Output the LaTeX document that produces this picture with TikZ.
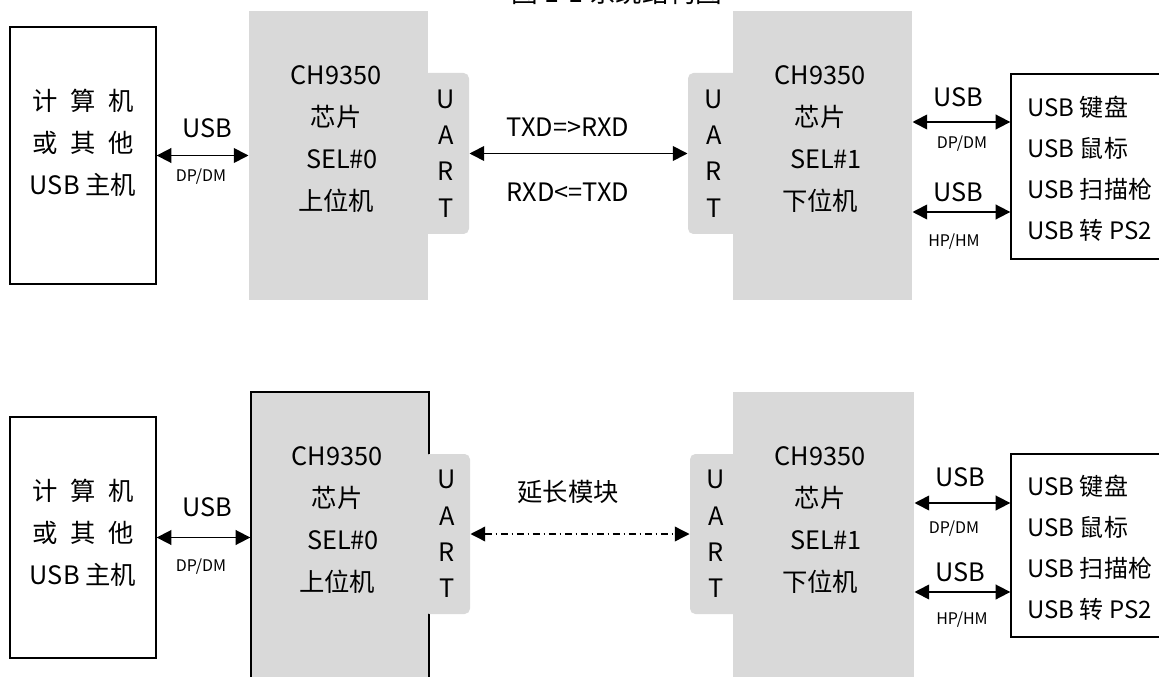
\documentclass[tikz,border=0pt]{standalone}
\usepackage{fontspec}
\setmainfont{Noto Sans CJK SC}
\usetikzlibrary{arrows.meta}
\definecolor{chipgray}{RGB}{217,217,217}
\tikzset{every picture/.style={line width=0.75pt}}
\tikzset{
	hostbox/.style={draw, line width=1pt, inner sep=0pt},
	chipbox/.style={fill=chipgray, inner sep=0pt},
	uarttab/.style={fill=chipgray, rounded corners=4pt, inner sep=0pt, align=center, font=\fontsize{19}{27.2}\selectfont},
	bigtext/.style={align=center, font=\fontsize{19}{31.5}\selectfont},
	listtext/.style={align=left, anchor=west, inner xsep=0pt, font=\fontsize{18}{30.75}\selectfont},
	smalltext/.style={font=\fontsize{12}{14}\selectfont},
	usbarrow/.style={line width=1.3pt, {Triangle[length=11pt,width=11pt]}-{Triangle[length=11pt,width=11pt]}},
	linkarrow/.style={usbarrow, line width=1pt, dash pattern=on 5pt off 3pt on 1pt off 3pt},
}

\begin{document}
\begin{tikzpicture}[x=0.75pt,y=0.75pt,yscale=-1,xscale=1]
	\useasboundingbox (0,0) rectangle (1159,677);
	\clip (0,0) rectangle (1159,677);

	% Title Node
	\node[bigtext, font=\fontsize{20}{24}\selectfont] (title) at (617,-8) {图 1-1 系统结构图};

	%Shape: Rectangle [id:host1] 
	\node[hostbox, minimum width=109.5pt, minimum height=192.75pt] (host1) at (83,155.5) {};
	%Shape: Rectangle [id:chip1] 
	\node[chipbox, minimum width=134.25pt, minimum height=216.75pt] (chip1) at (338.5,155.5) {};
	\node[uarttab, minimum width=34.5pt, minimum height=120.75pt] (tab1) at (446,153.5) {U\\A\\R\\T};
	%Shape: Rectangle [id:chip2] 
	\node[chipbox, minimum width=134.25pt, minimum height=216.75pt] (chip2) at (822.5,155.5) {};
	\node[uarttab, minimum width=39pt, minimum height=120.75pt] (tab2) at (714,153.5) {U\\A\\R\\T};
	%Shape: Rectangle [id:dev1] 
	\node[hostbox, minimum width=123pt, minimum height=138.75pt] (dev1) at (1093,166.5) {};

	%Shape: Rectangle [id:host2] 
	\node[hostbox, minimum width=109.5pt, minimum height=180.75pt] (host2) at (83,537.5) {};
	%Shape: Rectangle [id:chip3] 
	\node[chipbox, draw, line width=1pt, minimum width=133.5pt, minimum height=238.5pt] (chip3) at (340,551) {};
	\node[uarttab, minimum width=34.5pt, minimum height=120pt] (tab3) at (447,534) {U\\A\\R\\T};
	%Shape: Rectangle [id:chip4] 
	\node[chipbox, minimum width=135.75pt, minimum height=238.5pt] (chip4) at (823.5,551) {};
	\node[uarttab, minimum width=39pt, minimum height=120pt] (tab4) at (716,534) {U\\A\\R\\T};
	%Shape: Rectangle [id:dev2] 
	\node[hostbox, minimum width=123pt, minimum height=137.25pt] (dev2) at (1093,545.5) {};

	% Text Node
	\node[bigtext] (hosttxt1) at (83,142.5) {计\enspace 算\enspace 机\\或\enspace 其\enspace 他\\USB 主机};
	\node[bigtext] (chiptxt1) at (336,139) {CH9350\\芯片\\\hspace*{9pt}SEL\#0\\上位机};
	\node[bigtext] (chiptxt2) at (820,139) {CH9350\\芯片\\\hspace*{9pt}SEL\#1\\下位机};
	\node[listtext] (devtxt1) at (1027,168.5) {USB 键盘\\USB 鼠标\\USB 扫描枪\\USB 转 PS2};
	\node[bigtext] (hosttxt2) at (83,533) {计\enspace 算\enspace 机\\或\enspace 其\enspace 他\\USB 主机};
	\node[bigtext] (chiptxt3) at (337,520) {CH9350\\芯片\\\hspace*{9pt}SEL\#0\\上位机};
	\node[bigtext] (chiptxt4) at (820,520) {CH9350\\芯片\\\hspace*{9pt}SEL\#1\\下位机};
	\node[listtext] (devtxt2) at (1027,548) {USB 键盘\\USB 鼠标\\USB 扫描枪\\USB 转 PS2};

	%Straight Lines 
	\coordinate (ua) at (960,122);
	\coordinate (ub) at (960,212);
	\coordinate (uc) at (960,503);
	\coordinate (ud) at (960,592);
	\draw[usbarrow] (host1.east) -- (chip1.west);
	\draw[usbarrow] (tab1.east) -- (tab2.west);
	\draw[usbarrow] (chip2.east |- ua) -- (dev1.west |- ua);
	\draw[usbarrow] (chip2.east |- ub) -- (dev1.west |- ub);
	\draw[usbarrow] (host2.east) -- (chip3.west |- host2.east);
	\draw[linkarrow] (tab3.east) -- (tab4.west);
	\draw[usbarrow] (chip4.east |- uc) -- (dev2.west |- uc);
	\draw[usbarrow] (chip4.east |- ud) -- (dev2.west |- ud);

	% Text Node
	\node[bigtext] (usb1) at (207,128) {USB};
	\node[smalltext] (dpdm1) at (201,177) {DP/DM};
	\node[bigtext] (txd) at (568,127) {TXD=>RXD};
	\node[bigtext] (rxd) at (568,192) {RXD<=TXD};
	\node[bigtext] (usb2) at (958,97) {USB};
	\node[smalltext] (dpdm2) at (962,144) {DP/DM};
	\node[bigtext] (usb3) at (958,192) {USB};
	\node[smalltext] (hphm1) at (954,242) {HP/HM};
	\node[bigtext] (usb4) at (207,507) {USB};
	\node[smalltext] (dpdm3) at (201,567) {DP/DM};
	\node[bigtext] (ext) at (568,492) {延长模块};
	\node[bigtext] (usb5) at (960,477) {USB};
	\node[smalltext] (dpdm4) at (954,529) {DP/DM};
	\node[bigtext] (usb6) at (960,572) {USB};
	\node[smalltext] (hphm2) at (962,620) {HP/HM};

\end{tikzpicture}
\end{document}
